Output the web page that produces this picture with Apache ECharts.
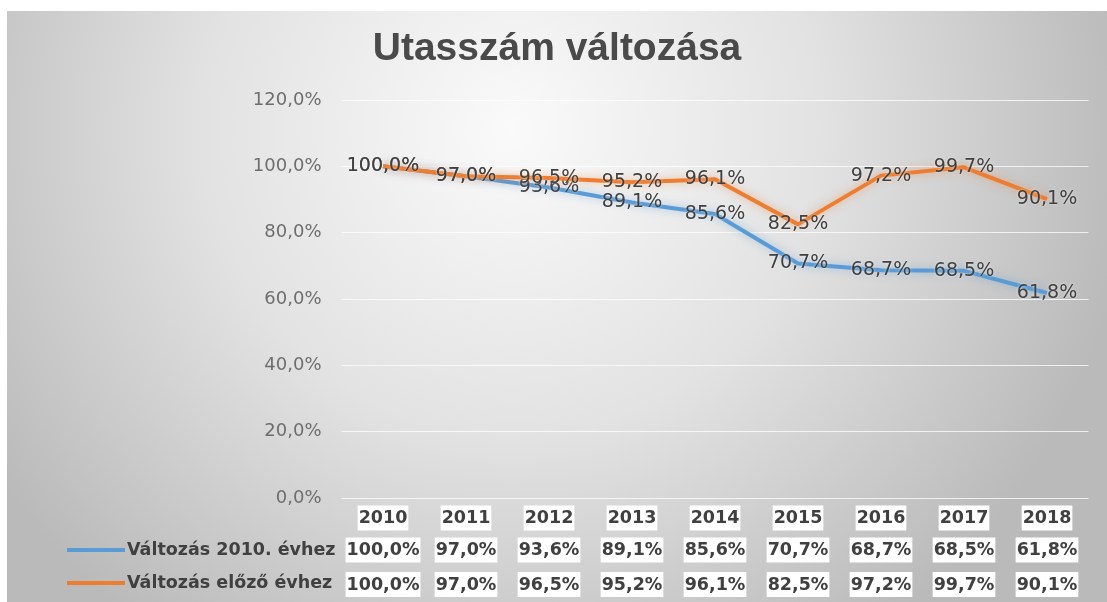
<!DOCTYPE html>
<html>
<head>
<meta charset="utf-8">
<script src="https://cdn.jsdelivr.net/npm/echarts@6/dist/echarts.min.js"></script>
<style>
  html, body { margin: 0; padding: 0; background: #fff; }
  #echarts_id { position: absolute; left: 7px; top: 11px; width: 1100px; height: 591px; }
</style>
</head>
<body>
<div id="echarts_id"></div>
<script>
// adatok
var years = ['2010', '2011', '2012', '2013', '2014', '2015', '2016', '2017', '2018'];
var valt2010 = [100.0, 97.0, 93.6, 89.1, 85.6, 70.7, 68.7, 68.5, 61.8];
var valtElozo = [100.0, 97.0, 96.5, 95.2, 96.1, 82.5, 97.2, 99.7, 90.1];
var seriesNames = ['Változás 2010. évhez', 'Változás előző évhez'];

function pct(v) {
    return v.toFixed(1).replace('.', ',') + '%';
}

var myChart = echarts.init(document.getElementById('echarts_id'));

var labelStyle = {
    show: true,
    position: 'inside',
    fontFamily: 'DejaVu Sans',
    fontSize: 19,
    color: '#404040',
    textShadowColor: 'rgba(255,255,255,0.6)',
    textShadowBlur: 3,
    formatter: function (p) { return pct(p.value); }
};

var cellStyle = {
    fontFamily: 'DejaVu Sans',
    fontWeight: 'bold',
    fontSize: 17.5,
    color: '#404040',
    backgroundColor: '#ffffff',
    padding: [4, 1, 3, 1]
};

option = {
    backgroundColor: {
        type: 'radial', x: 0.46, y: 0.2, r: 1.05,
        colorStops: [
            { offset: 0, color: '#fafafa' },
            { offset: 0.5, color: '#e2e2e2' },
            { offset: 1, color: '#bababa' }
        ]
    },
    title: {
        text: 'Utasszám változása',
        left: 'center',
        top: 14,
        textStyle: {
            fontFamily: 'Liberation Sans',
            fontWeight: 'bold',
            fontSize: 39,
            color: '#4a4a4a'
        }
    },
    legend: {
        orient: 'vertical',
        left: 55,
        top: 525,
        itemWidth: 58,
        itemHeight: 4,
        itemGap: 15,
        icon: 'rect',
        data: seriesNames,
        textStyle: {
            fontFamily: 'DejaVu Sans',
            fontWeight: 'bold',
            fontSize: 17.5,
            color: '#404040',
            padding: [0, 0, 0, -3]
        }
    },
    grid: { left: 334.5, right: 18.5, top: 89, bottom: 104 },
    xAxis: {
        type: 'category',
        data: years,
        axisLine: { show: false },
        axisTick: { show: false },
        axisLabel: {
            interval: 0,
            margin: 5,
            formatter: function (val, idx) {
                return '{y|' + val + '}\n{a|' + pct(valt2010[idx]) + '}\n{b|' + pct(valtElozo[idx]) + '}';
            },
            rich: {
                y: Object.assign({ lineHeight: 30 }, cellStyle),
                a: Object.assign({ lineHeight: 34 }, cellStyle),
                b: Object.assign({ lineHeight: 35 }, cellStyle)
            }
        }
    },
    yAxis: {
        type: 'value',
        min: 0,
        max: 120,
        interval: 20,
        axisLine: { show: false },
        axisTick: { show: false },
        axisLabel: {
            margin: 20,
            fontFamily: 'DejaVu Sans',
            fontSize: 18,
            color: '#6e6e6e',
            formatter: function (v) { return pct(v); }
        },
        splitLine: { lineStyle: { color: 'rgba(255,255,255,0.75)', width: 1 } }
    },
    series: [{
        name: seriesNames[0],
        type: 'line',
        data: valt2010,
        symbol: 'circle',
        symbolSize: 0,
        showSymbol: true,
        color: '#5b9bd5',
        lineStyle: { width: 4, color: '#5b9bd5', shadowColor: 'rgba(91,155,213,0.5)', shadowBlur: 8 },
        label: labelStyle,
        z: 2
    }, {
        name: seriesNames[1],
        type: 'line',
        data: valtElozo,
        symbol: 'circle',
        symbolSize: 0,
        showSymbol: true,
        color: '#ed7d31',
        lineStyle: { width: 4, color: '#ed7d31', shadowColor: 'rgba(237,125,49,0.5)', shadowBlur: 8 },
        label: labelStyle,
        z: 3
    }]
};

myChart.setOption(option);
</script>
</body>
</html>
